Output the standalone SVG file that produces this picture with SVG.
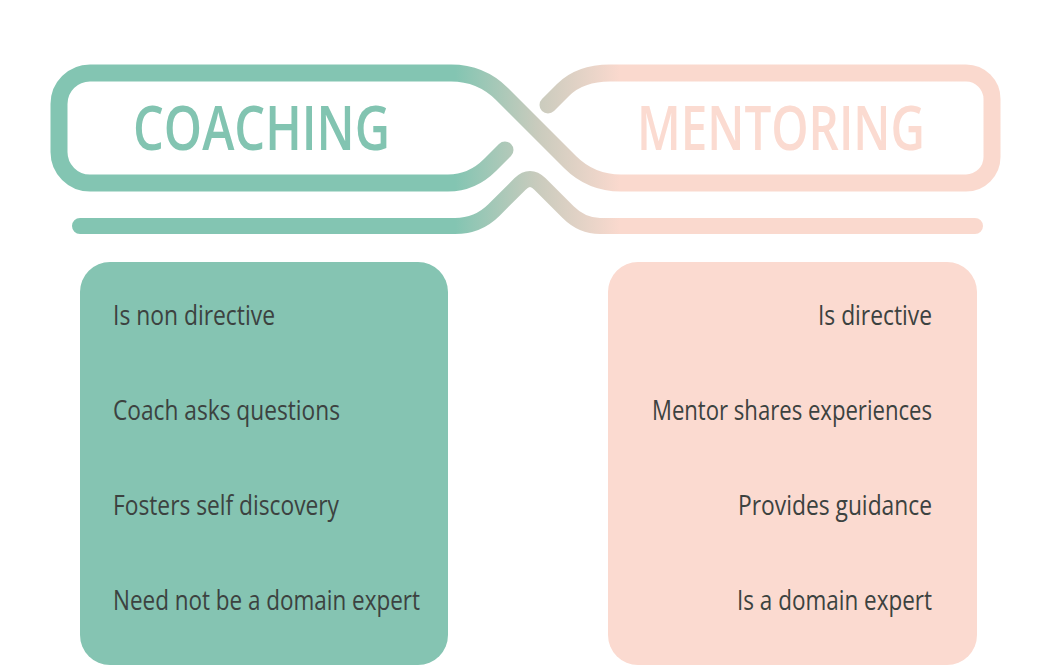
<svg xmlns="http://www.w3.org/2000/svg" width="1047" height="666" viewBox="0 0 1047 666">
  <defs>
    <linearGradient id="cross" gradientUnits="userSpaceOnUse" x1="455" y1="0" x2="620" y2="0">
      <stop offset="0" stop-color="#83c5b2"/>
      <stop offset="0.5" stop-color="#c9cbbd"/>
      <stop offset="1" stop-color="#fad9ce"/>
    </linearGradient>
  </defs>
  <style>
    .band { fill: none; stroke: url(#cross); stroke-linecap: round; stroke-linejoin: round; }
    .title { font-family: "Open Sans", "Noto Sans", sans-serif; font-weight: 600; font-size: 61px; }
    .item { font-family: "Open Sans", "Noto Sans", sans-serif; font-size: 27px; fill: #3c4240; }
  </style>
  <rect width="1047" height="666" fill="#ffffff"/>
  <g id="connectors">
    <path class="band" stroke-width="17" d="M 505 150 L 490 165 Q 472 183 448 183 H 90 A 31 31 0 0 1 59 152 V 104 A 31 31 0 0 1 90 73 H 451 Q 481 73 502 94 L 570 162 Q 591 183 621 183 H 966 A 26 26 0 0 0 992 157 V 99 A 26 26 0 0 0 966 73 H 610 Q 580 73 563 90 L 548 105"/>
    <path class="band" stroke-width="16" d="M 80 226 H 455 Q 478 226 494 210 L 520 184 Q 530 174 540 184 L 568 212 Q 582 226 600 226 H 975"/>
  </g>
  <g id="coaching-title">
    <text class="title" x="133" y="150" fill="#82c4b1" textLength="257" lengthAdjust="spacingAndGlyphs">COACHING</text>
  </g>
  <g id="mentoring-title">
    <text class="title" x="637" y="150" fill="#fbdbd1" textLength="288" lengthAdjust="spacingAndGlyphs">MENTORING</text>
  </g>
  <g id="coaching-box">
    <rect x="80" y="262" width="368" height="403" rx="30" fill="#85c4b2"/>
    <text class="item" x="113" y="325" textLength="162" lengthAdjust="spacingAndGlyphs">Is non directive</text>
    <text class="item" x="113" y="420" textLength="227" lengthAdjust="spacingAndGlyphs">Coach asks questions</text>
    <text class="item" x="113" y="515" textLength="226" lengthAdjust="spacingAndGlyphs">Fosters self discovery</text>
    <text class="item" x="113" y="610" textLength="307" lengthAdjust="spacingAndGlyphs">Need not be a domain expert</text>
  </g>
  <g id="mentoring-box">
    <rect x="608" y="262" width="369" height="403" rx="30" fill="#fbdad0"/>
    <text class="item" x="818" y="325" textLength="114" lengthAdjust="spacingAndGlyphs">Is directive</text>
    <text class="item" x="652" y="420" textLength="280" lengthAdjust="spacingAndGlyphs">Mentor shares experiences</text>
    <text class="item" x="738" y="515" textLength="194" lengthAdjust="spacingAndGlyphs">Provides guidance</text>
    <text class="item" x="737" y="610" textLength="195" lengthAdjust="spacingAndGlyphs">Is a domain expert</text>
  </g>
</svg>
